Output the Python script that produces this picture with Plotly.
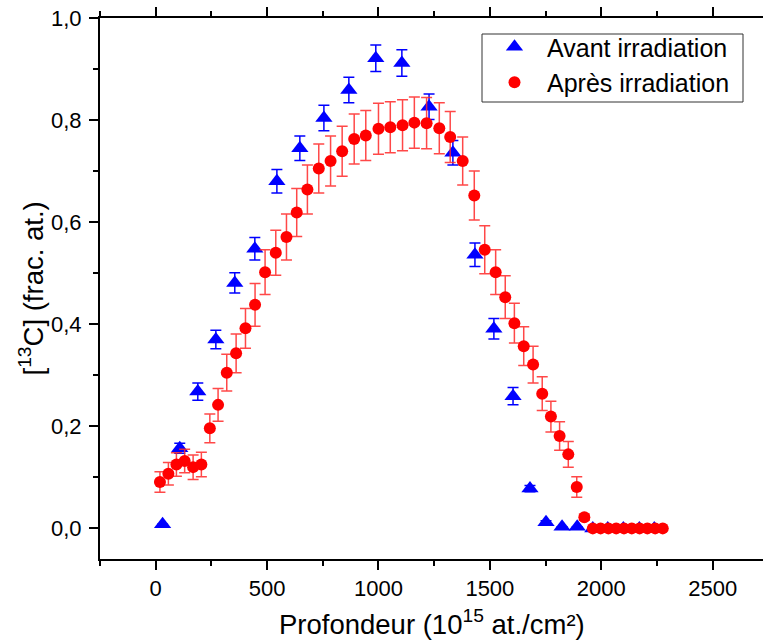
import plotly.graph_objects as go

# ---- data ----
avant_x = [31, 108, 189, 270, 355, 445, 544, 647, 755, 867, 988, 1105, 1227, 1334,
           1433, 1518, 1604, 1680, 1752, 1824, 1892, 1962, 2029, 2099, 2171, 2238]
avant_y = [0.008, 0.157, 0.268, 0.370, 0.481, 0.548, 0.680, 0.745, 0.804, 0.859, 0.921,
           0.912, 0.826, 0.736, 0.536, 0.391, 0.259, 0.078, 0.012, 0.003, 0.003,
           0.0, 0.0, 0.0, 0.0, 0.0]
avant_err = [0.0, 0.010, 0.017, 0.018, 0.020, 0.022, 0.023, 0.024, 0.025, 0.025, 0.026,
             0.026, 0.025, 0.024, 0.023, 0.020, 0.017, 0.006, 0.003, 0.0, 0.0,
             0.0, 0.0, 0.0, 0.0, 0.0]

apres_x = [19, 57, 93, 130, 168, 205, 243, 280, 319, 361, 403, 446, 491, 539, 587, 633,
           681, 732, 785, 837, 891, 943, 1000, 1053, 1108, 1161, 1216, 1273, 1322, 1378,
           1430, 1477, 1526, 1569, 1610, 1652, 1694, 1735, 1774, 1813, 1852, 1890, 1924,
           1962, 1997, 2032, 2067, 2102, 2137, 2172, 2207, 2242, 2276]
apres_y = [0.091, 0.107, 0.125, 0.132, 0.120, 0.125, 0.196, 0.242, 0.305, 0.343, 0.392,
           0.438, 0.502, 0.540, 0.571, 0.619, 0.664, 0.705, 0.720, 0.739, 0.763, 0.770,
           0.783, 0.786, 0.790, 0.795, 0.794, 0.784, 0.767, 0.720, 0.652, 0.546, 0.502,
           0.453, 0.402, 0.357, 0.321, 0.264, 0.219, 0.181, 0.145, 0.081, 0.022,
           0.0, 0.0, 0.0, 0.0, 0.0, 0.0, 0.0, 0.0, 0.0, 0.0]
apres_err = [0.020, 0.022, 0.023, 0.023, 0.024, 0.024, 0.028, 0.032, 0.036, 0.038, 0.039,
             0.042, 0.044, 0.044, 0.045, 0.047, 0.048, 0.048, 0.049, 0.049, 0.049, 0.049,
             0.050, 0.050, 0.050, 0.050, 0.050, 0.050, 0.050, 0.047, 0.048, 0.047, 0.044,
             0.042, 0.039, 0.038, 0.036, 0.033, 0.030, 0.028, 0.025, 0.020, 0.006,
             0.0, 0.0, 0.0, 0.0, 0.0, 0.0, 0.0, 0.0, 0.0, 0.0]

x_tickvals = [0, 500, 1000, 1500, 2000, 2500]
x_ticktext = ["0", "500", "1000", "1500", "2000", "2500"]
y_tickvals = [0.0, 0.2, 0.4, 0.6, 0.8, 1.0]
y_ticktext = ["0,0", "0,2", "0,4", "0,6", "0,8", "1,0"]
x_title = "Profondeur (10<sup>15</sup> at./cm²)"
y_title = "[<sup>13</sup>C] (frac. at.)"

FONT = "Liberation Sans, Arial, sans-serif"

# plot-area geometry in pixels
W, H = 763, 641
L, R, T, B = 100, 0, 18, 82
PW, PH = W - L - R, H - T - B


def px_x(p):
    return (p - L) / PW


def px_y(p):
    return (H - B - p) / PH


fig = go.Figure()
fig.add_trace(go.Scatter(
    x=avant_x, y=avant_y, mode="markers", name="Avant irradiation",
    marker=dict(symbol="triangle-up", size=15, color="#0000ff", line=dict(width=0)),
    error_y=dict(type="data", array=avant_err, visible=True, color="#0000ff",
                 thickness=1.5, width=5.5),
))
fig.add_trace(go.Scatter(
    x=apres_x, y=apres_y, mode="markers", name="Après irradiation",
    marker=dict(symbol="circle", size=12, color="#ff0000", line=dict(width=0)),
    error_y=dict(type="data", array=apres_err, visible=True, color="rgba(255,40,40,0.85)",
                 thickness=1.5, width=5.5),
))

fig.update_layout(
    width=W, height=H,
    margin=dict(l=L, r=R, t=T, b=B, autoexpand=False),
    paper_bgcolor="white", plot_bgcolor="white",
    font=dict(family=FONT, color="black", size=22),
    showlegend=True,
    legend=dict(
        x=px_x(482), y=px_y(24), xanchor="left", yanchor="top",
        bgcolor="rgba(0,0,0,0)", borderwidth=0,
        font=dict(family=FONT, size=25, color="black"),
        itemsizing="trace", itemwidth=55,
    ),
    shapes=[dict(
        type="rect", xref="paper", yref="paper",
        x0=px_x(482), x1=px_x(743), y0=px_y(102), y1=px_y(34),
        line=dict(color="#333333", width=1), fillcolor="rgba(0,0,0,0)", layer="below",
    )],
    annotations=[
        dict(text=x_title, xref="paper", yref="paper", x=0.5, y=0,
             xanchor="center", yanchor="middle", yshift=-(622 - (H - B)),
             showarrow=False, font=dict(family=FONT, size=27.5, color="black")),
        dict(text=y_title, xref="paper", yref="paper", x=0, y=0.5,
             xanchor="center", yanchor="middle", xshift=-(L - 32), textangle=-90,
             showarrow=False, font=dict(family=FONT, size=27.5, color="black")),
    ],
    xaxis=dict(
        range=[-250, 2726], showgrid=False, zeroline=False, automargin=False,
        showline=True, linecolor="black", linewidth=2, mirror="ticks",
        ticks="outside", ticklen=9, tickwidth=2, tickcolor="black",
        tickmode="array", tickvals=x_tickvals, ticktext=x_ticktext,
        tickfont=dict(family=FONT, size=22, color="black"),
        minor=dict(ticks="outside", ticklen=5, tickwidth=2, tickcolor="black",
                   tick0=0, dtick=250, showgrid=False),
    ),
    yaxis=dict(
        range=[-0.06, 1.0], showgrid=False, zeroline=False, automargin=False,
        showline=True, linecolor="black", linewidth=2, mirror=False,
        ticks="outside", ticklen=9, tickwidth=2, tickcolor="black",
        tickmode="array", tickvals=y_tickvals, ticktext=y_ticktext,
        tickfont=dict(family=FONT, size=22, color="black"), ticklabelstandoff=3,
        minor=dict(ticks="outside", ticklen=5, tickwidth=2, tickcolor="black",
                   tick0=0, dtick=0.1, showgrid=False),
    ),
)

fig.write_html("out.html", config={"displayModeBar": False},
               post_script="document.body.style.margin='0px';")
